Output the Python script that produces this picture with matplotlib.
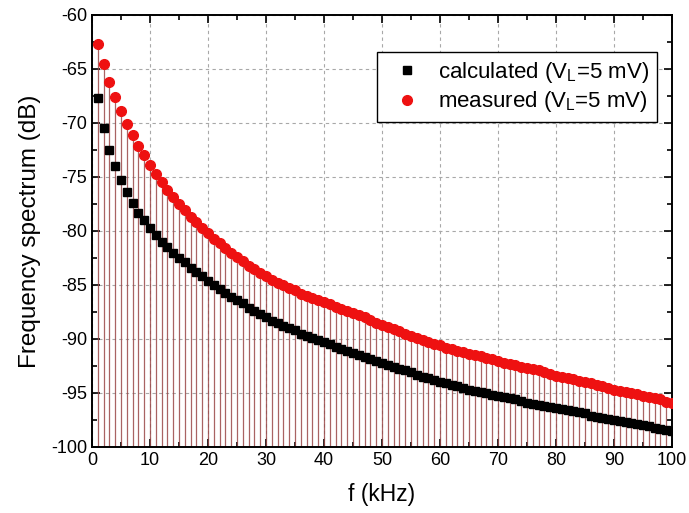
import matplotlib
matplotlib.use("Agg")
import matplotlib.pyplot as plt
from matplotlib.ticker import MultipleLocator

plt.rcParams['font.family'] = ['Liberation Sans', 'DejaVu Sans']
plt.rcParams['mathtext.fontset'] = 'custom'
plt.rcParams['mathtext.rm'] = 'Liberation Sans'
plt.rcParams['mathtext.it'] = 'Liberation Sans:italic'
plt.rcParams['axes.unicode_minus'] = False

freq_khz = list(range(1, 101))

calculated_db = [
    -67.7, -70.5, -72.5, -74.0, -75.3, -76.4, -77.4, -78.3, -79.0, -79.7,
    -80.4, -81.0, -81.5, -82.0, -82.5, -82.9, -83.4, -83.8, -84.2, -84.6,
    -85.0, -85.4, -85.7, -86.1, -86.4, -86.7, -87.1, -87.4, -87.7, -88.0,
    -88.3, -88.5, -88.8, -89.0, -89.2, -89.5, -89.7, -89.9, -90.1, -90.3,
    -90.5, -90.7, -90.9, -91.1, -91.3, -91.5, -91.7, -91.9, -92.0, -92.2,
    -92.4, -92.6, -92.8, -92.9, -93.1, -93.3, -93.5, -93.6, -93.8, -94.0,
    -94.1, -94.3, -94.4, -94.5, -94.7, -94.8, -94.9, -95.0, -95.2, -95.3,
    -95.4, -95.5, -95.6, -95.7, -95.9, -96.0, -96.1, -96.2, -96.3, -96.4,
    -96.5, -96.6, -96.7, -96.8, -96.9, -97.1, -97.2, -97.3, -97.4, -97.5,
    -97.6, -97.7, -97.8, -97.9, -98.0, -98.1, -98.2, -98.3, -98.4, -98.5,
]

measured_db = [
    -62.7, -64.5, -66.2, -67.6, -68.9, -70.1, -71.1, -72.1, -73.0, -73.9,
    -74.7, -75.5, -76.2, -76.9, -77.5, -78.1, -78.7, -79.2, -79.7, -80.2,
    -80.7, -81.1, -81.6, -82.0, -82.4, -82.8, -83.2, -83.5, -83.9, -84.2,
    -84.5, -84.8, -85.0, -85.3, -85.5, -85.8, -86.0, -86.2, -86.4, -86.6,
    -86.8, -87.0, -87.2, -87.4, -87.6, -87.8, -88.0, -88.2, -88.5, -88.7,
    -88.9, -89.1, -89.3, -89.5, -89.7, -89.9, -90.1, -90.3, -90.5, -90.6,
    -90.8, -90.9, -91.1, -91.2, -91.4, -91.5, -91.6, -91.8, -91.9, -92.0,
    -92.2, -92.3, -92.4, -92.6, -92.7, -92.8, -92.9, -93.1, -93.2, -93.4,
    -93.5, -93.6, -93.7, -93.9, -94.0, -94.1, -94.3, -94.4, -94.5, -94.7,
    -94.8, -94.9, -95.0, -95.1, -95.3, -95.4, -95.5, -95.6, -95.8, -95.9,
]

y_floor = -100

fig = plt.figure(figsize=(6.89, 5.13), dpi=100)
ax = fig.add_axes([0.1335, 0.1287, 0.8418, 0.8421])

# stems from the floor up to each spectral line
ax.vlines(freq_khz, y_floor, measured_db, color='#9a4848', lw=0.9, alpha=0.85, zorder=2)

ax.plot(freq_khz, calculated_db, ls='none', marker='s', ms=5.2, color='black',
        mec='black', label='calculated (V$_{\\rm L}$=5 mV)', zorder=3)
ax.plot(freq_khz, measured_db, ls='none', marker='o', ms=7.0, color='#ee1111',
        mec='#ee1111', label='measured (V$_{\\rm L}$=5 mV)', zorder=4)

ax.set_xlim(0, 100)
ax.set_ylim(-100, -60)
ax.xaxis.set_major_locator(MultipleLocator(10))
ax.xaxis.set_minor_locator(MultipleLocator(5))
ax.yaxis.set_major_locator(MultipleLocator(5))
ax.yaxis.set_minor_locator(MultipleLocator(2.5))

ax.grid(True, which='major', color='#a8a8a8', ls=(0, (3, 3)), lw=0.8, zorder=1)
ax.tick_params(which='both', direction='in', top=True, right=True, labelsize=13, width=1.2)
ax.tick_params(which='major', length=6)
ax.tick_params(which='minor', length=3.5)
for s in ax.spines.values():
    s.set_linewidth(1.4)

ax.set_xlabel('f (kHz)', fontsize=16.5, labelpad=10)
ax.set_ylabel('Frequency spectrum (dB)', fontsize=17.5, labelpad=7)

leg = ax.legend(loc='upper right', bbox_to_anchor=(0.974, 0.914), borderaxespad=0,
                fontsize=16, frameon=True, fancybox=False, edgecolor='black',
                framealpha=1, handletextpad=0.4, borderpad=0.35, labelspacing=0.2,
                handlelength=2.0)
leg.get_frame().set_linewidth(1.0)

fig.savefig('out.png', dpi=100)
